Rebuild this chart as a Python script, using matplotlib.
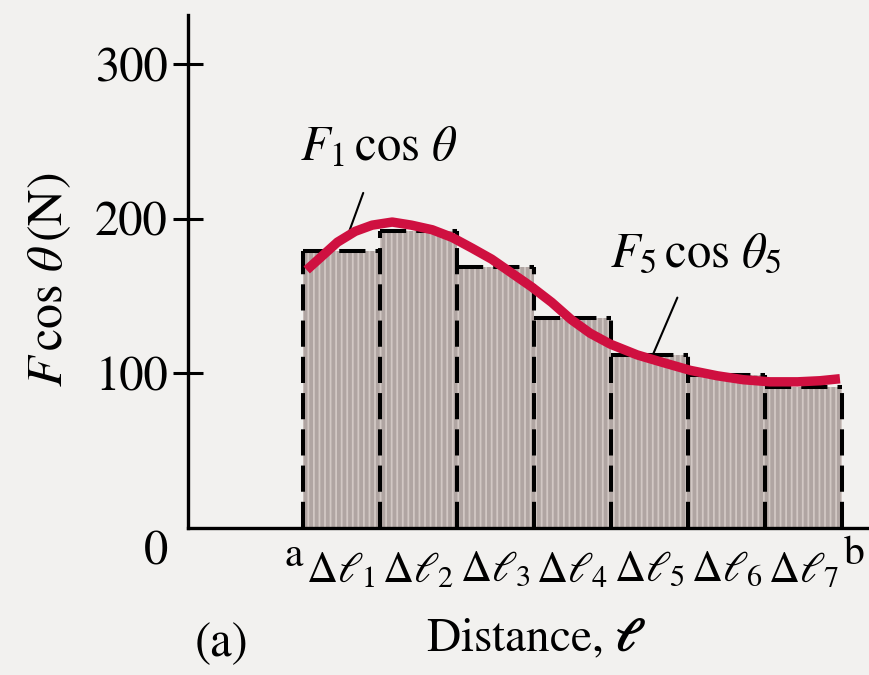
import numpy as np
import matplotlib
matplotlib.use("Agg")
import matplotlib.pyplot as plt

# bar heights for each interval (N)
bar_heights = [179, 192, 169, 136, 112, 99, 91]
bar_labels = [r'$\Delta\ell_{%d}$' % (i + 1) for i in range(7)]

# the smooth force curve, x in units of one interval from a
curve_x = [0.05, 0.25, 0.45, 0.68, 0.90, 1.16, 1.41, 1.68, 1.94, 2.20, 2.45, 2.71, 2.97,
           3.23, 3.48, 3.73, 3.99, 4.34, 4.68, 5.03, 5.38, 5.71, 6.06, 6.42, 6.71, 6.97]
curve_y = [167, 176, 185, 192, 196, 198, 196, 193, 188, 181, 174, 165, 156,
           146, 135, 126, 119, 112, 107, 102, 98.5, 96, 94.6, 94.6, 95.3, 96.6]

y_ticks = [100, 200, 300]

plt.rcParams['font.family'] = 'STIXGeneral'
plt.rcParams['mathtext.fontset'] = 'stix'
plt.rcParams['hatch.linewidth'] = 1.3

bg = '#f2f1ef'
fig = plt.figure(figsize=(8.7, 6.75), dpi=100, facecolor=bg)
# axes placed so that the axis lines sit where they do in the scan
ax = fig.add_axes([188 / 870, 1 - 528 / 675, 1 - 188 / 870, (528 - 15) / 675])
ax.set_facecolor(bg)

n = len(bar_heights)
left = np.arange(n)
# filled bars with fine vertical stripes
ax.bar(left, bar_heights, width=1.0, align='edge', color='#b0a5a2',
       hatch='|||', edgecolor='#d2c8c4', linewidth=0, zorder=2)

# dashed outlines: one line per boundary, up to the taller neighbour
dash = (0, (6.5, 2.5))
edges = np.arange(n + 1)
edge_tops = [max(bar_heights[max(i - 1, 0)], bar_heights[min(i, n - 1)]) for i in edges]
ax.vlines(edges, 0, edge_tops, colors='black', linewidth=2.9, linestyles=[dash], zorder=3)
ax.hlines(bar_heights, left, left + 1, colors='black', linewidth=2.9, linestyles=[dash], zorder=3)

# force curve
ax.plot(curve_x, curve_y, color='#cf1040', lw=6.8, solid_capstyle='butt',
        solid_joinstyle='round', zorder=4)

ax.set_xlim(-1.49, 7.36)
ax.set_ylim(0, 332)

for s in ['top', 'right']:
    ax.spines[s].set_visible(False)
ax.spines['left'].set_linewidth(2.4)
ax.spines['bottom'].set_linewidth(2.4)
ax.spines['bottom'].set_zorder(5)

ax.set_yticks(y_ticks)
ax.set_yticklabels([str(v) for v in y_ticks], fontsize=35)
ax.tick_params(axis='y', direction='inout', length=21, width=2.2, pad=4)

ax.set_xticks(left + 0.5)
ax.set_xticklabels(bar_labels, fontsize=31)
ax.tick_params(axis='x', length=0, pad=17)

# end labels a and b, and the zero
ax.text(-0.12, -18, 'a', fontsize=30, ha='center', va='center', clip_on=False)
ax.text(7.15, -17, 'b', fontsize=30, ha='center', va='center', clip_on=False)
ax.text(-1.9, -16, '0', fontsize=35, ha='center', va='center', clip_on=False)

# curve annotations
ax.annotate(r'$F_1\,\cos\,\theta$', xy=(0.58, 189), xytext=(0.99, 245),
            fontsize=35, ha='center', va='center',
            arrowprops=dict(arrowstyle='-', lw=1.5, color='black',
                            shrinkA=14, shrinkB=0))
ax.annotate(r'$F_5\,\cos\,\theta_5$', xy=(4.55, 113), xytext=(5.1, 177),
            fontsize=35, ha='center', va='center',
            arrowprops=dict(arrowstyle='-', lw=1.5, color='black',
                            shrinkA=14, shrinkB=0))

# axis titles
fig.text(50 / 870, 1 - 280 / 675, r'$F\,\cos\,\theta\,(\mathrm{N})$', fontsize=36,
         rotation=90, ha='center', va='center')
fig.text(536 / 870, 1 - 640 / 675, r'Distance, $\boldsymbol{\ell}$', fontsize=34,
         ha='center', va='center')
fig.text(222 / 870, 1 - 645 / 675, '(a)', fontsize=35, ha='center', va='center')

plt.savefig('out.png', dpi=100, facecolor=bg)
